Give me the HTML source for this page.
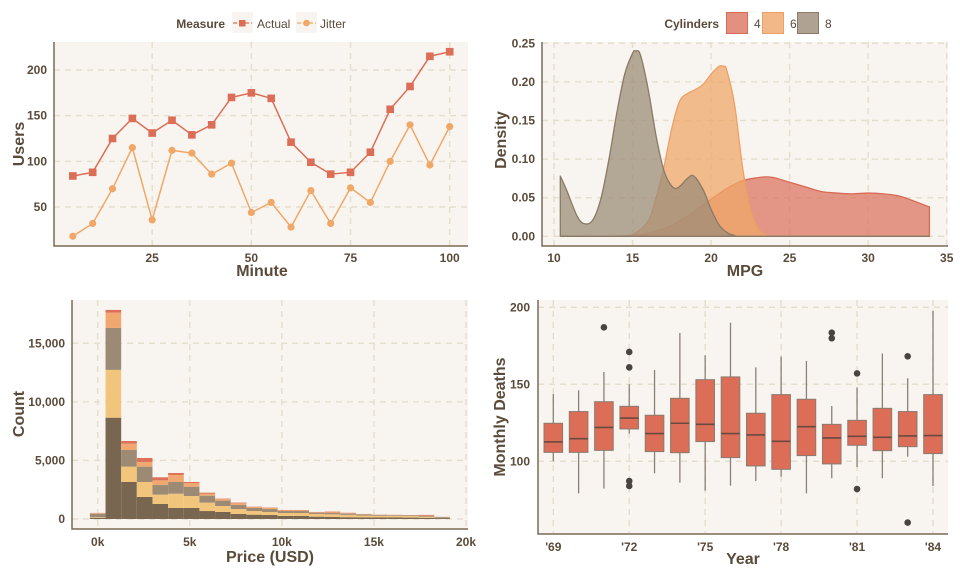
<!DOCTYPE html>
<html><head><meta charset="utf-8">
<style>
html,body{margin:0;padding:0;background:#fff;}
svg{display:block;font-family:"Liberation Sans",sans-serif;}
.tick{font-size:12px;font-weight:bold;fill:#5a4a3a;}
.atitle{font-size:16px;font-weight:bold;fill:#5a4a3a;}
.leg{font-size:12px;fill:#5a4a3a;}
.legb{font-size:12px;font-weight:bold;fill:#5a4a3a;}
</style></head>
<body>
<svg id="chart" width="960" height="576" viewBox="0 0 960 576" xmlns="http://www.w3.org/2000/svg"></svg>
<script>
// ---------- Panel 1: line chart ----------
const minutes = [5,10,15,20,25,30,35,40,45,50,55,60,65,70,75,80,85,90,95,100];
const actualUsers = [84,88,125,147,131,145,129,140,170,175,169,121,99,86,88,110,157,182,215,220];
const jitterUsers = [18,32,70,115,36,112,109,86,98,44,55,28,68,32,71,55,100,140,96,138];
const minuteTicks = [25,50,75,100];
const userTicks = [50,100,150,200];

// ---------- Panel 2: density ----------
const mpgTicks = [10,15,20,25,30,35];
const densityTicks = [0,0.05,0.10,0.15,0.20,0.25];
const densityTickLabels = ["0.00","0.05","0.10","0.15","0.20","0.25"];
const cyl4X = [10.4,15,17,18,19,20,21,22,23,23.5,24,25,26,27,28,29,30,31,32,33,33.9];
const cyl4Y = [0,0.001,0.01,0.02,0.033,0.048,0.062,0.072,0.076,0.077,0.076,0.07,0.064,0.058,0.056,0.055,0.056,0.055,0.052,0.045,0.038];
const cyl6X = [10.4,14,15,16,16.5,17,17.5,18,18.5,19,19.5,20,20.5,20.8,21,21.5,22,22.5,23,23.5,24,33.9];
const cyl6Y = [0,0,0.002,0.02,0.05,0.09,0.14,0.175,0.185,0.19,0.197,0.21,0.22,0.22,0.215,0.17,0.09,0.035,0.01,0.002,0,0];
const cyl8X = [10.4,10.8,11.5,12,12.5,13,13.5,14,14.5,15,15.2,15.5,16,16.5,17,17.5,17.9,18.5,18.9,19.5,20,20.5,21,21.5,22,33.9];
const cyl8Y = [0.078,0.06,0.025,0.016,0.022,0.05,0.10,0.16,0.21,0.237,0.24,0.235,0.19,0.13,0.085,0.065,0.063,0.075,0.078,0.06,0.035,0.015,0.005,0.001,0,0];

// ---------- Panel 3: stacked histogram (counts per cut, bottom to top) ----------
const priceBinLeft = [-0.425,0.425,1.275,2.125,2.975,3.825,4.675,5.525,6.375,7.225,8.075,8.925,9.775,10.625,11.475,12.325,13.175,14.025,14.875,15.725,16.575,17.425,18.275];
const priceBinWidth = 0.85;
const cutA = [100,8650,3160,1880,1280,940,940,680,600,430,370,340,260,260,200,170,150,140,130,130,120,100,80];
const cutB = [50,4080,1310,1280,800,1220,1020,720,510,420,310,260,250,250,230,230,200,160,150,140,130,100,30];
const cutC = [300,3580,1420,1310,820,1000,800,590,460,350,260,250,170,170,110,110,110,90,70,60,60,70,70];
const cutD = [50,1310,540,400,400,600,310,170,140,140,80,90,60,60,30,60,40,30,20,20,20,20,10];
const cutE = [20,230,230,340,260,170,90,90,30,60,30,30,30,30,30,60,30,10,10,10,10,60,0];
const priceTicks = [0,5,10,15,20];
const priceTickLabels = ["0k","5k","10k","15k","20k"];
const countTicks = [0,5000,10000,15000];
const countTickLabels = ["0","5,000","10,000","15,000"];

// ---------- Panel 4: boxplots ----------
const years = [69,70,71,72,73,74,75,76,77,78,79,80,81,82,83,84];
const whiskerHigh = [143.7,146.1,158,150,159.3,183.3,168.8,190,161,168,165.2,135.9,148,170,153.9,197.8];
const q3 = [124.7,132.3,138.7,135.7,129.9,140.9,153,154.8,131.2,143.3,140.3,124,126.6,134.4,132.3,143.3];
const medians = [112.6,114.7,122,128.1,118,124.7,124,118,117.1,113,122.5,115.2,116.2,115.6,116.5,116.7];
const q1 = [105.8,105.8,107.1,121,106.3,105.6,112.8,102.4,97,94.8,103.7,98.3,110.4,106.9,109.5,105];
const whiskerLow = [100,79.2,82.3,118,92.2,86.1,81,84.2,87.2,90,79.2,89,96.3,89,103,84];
const outlierYears = [71,72,72,72,72,80,80,81,81,83,83];
const outlierValues = [187,171,161,87.2,84,183.5,179.9,157.1,82,168.2,60.2];
const yearTicks = [69,72,75,78,81,84];
const deathTicks = [100,150,200];

const NS = "http://www.w3.org/2000/svg";
const svg = document.getElementById("chart");
function mk(tag, attrs, parent, text){
  const e = document.createElementNS(NS, tag);
  for (const k in attrs) e.setAttribute(k, attrs[k]);
  if (text !== undefined) e.textContent = text;
  (parent || svg).appendChild(e);
  return e;
}
function scale(d0,d1,r0,r1){ return v => r0 + (v-d0)/(d1-d0)*(r1-r0); }
const GRID = "#e6dfcf", AXIS = "#7a6a55";

function panel(name, x0, y0, x1, y1){
  const g = mk("g", {});
  
  
  const bg = mk("rect", {x:x0, y:y0, width:x1-x0, height:y1-y0, fill:"#f8f5f0"}, g);
  
  
  return g;
}
function vgrid(g, x, y0, y1){ const l = mk("line",{x1:x,x2:x,y1:y0,y2:y1,stroke:GRID,"stroke-width":1.5,"stroke-dasharray":"6,5"},g);   }
function hgrid(g, y, x0, x1){ const l = mk("line",{x1:x0,x2:x1,y1:y,y2:y,stroke:GRID,"stroke-width":1.5,"stroke-dasharray":"6,5"},g);   }
function axes(g, x0, y0, x1, y1){
  const a = mk("path",{d:`M${x0},${y0} L${x0},${y1} L${x1},${y1}`,fill:"none",stroke:AXIS,"stroke-width":1.5},g);
   
}
function txt(g, x, y, s, cls, anchor, name, rot){
  const t = mk("text",{x:x,y:y,class:cls,"text-anchor":anchor||"middle"},g,s);
  if (rot) t.setAttribute("transform",`rotate(-90 ${x} ${y})`);
  
  
  return t;
}

// ===== Panel 1 =====
(function(){
  const L=54,T=42,R=468,B=246;
  const g = panel("line-chart-panel",L,T,R,B);
  const X = scale(0,100,53,449.7), Y = scale(0,200,252.7,70);
  minuteTicks.forEach(v=>{ vgrid(g,X(v),T,B); txt(g,X(v),262,String(v),"tick","middle","x-tick-label"); });
  userTicks.forEach(v=>{ hgrid(g,Y(v),L,R); txt(g,47,Y(v)+4,String(v),"tick","end","y-tick-label"); });
  axes(g,L,T,R,B);
  txt(g,262,276,"Minute","atitle","middle","x-axis-title");
  txt(g,24,144,"Users","atitle","middle","y-axis-title",true);
  function series(vals,color,marker,name){
    const sg = mk("g",{},g);
    
    
    const p = mk("polyline",{points:minutes.map((m,i)=>X(m)+","+Y(vals[i])).join(" "),fill:"none",stroke:color,"stroke-width":1.5},sg);
    
    
    minutes.forEach((m,i)=>{
      let e;
      if(marker==="sq") e = mk("rect",{x:X(m)-3.8,y:Y(vals[i])-3.8,width:7.6,height:7.6,fill:color},sg);
      else e = mk("circle",{cx:X(m),cy:Y(vals[i]),r:3.6,fill:color},sg);
      
      
    });
  }
  series(jitterUsers,"#f0a868","ci","jitter-series");
  series(actualUsers,"#dc6e57","sq","actual-series");
  const lg = mk("g",{},svg);
  
  
  txt(lg,225,28,"Measure","legb","end","legend-title");
  const e1 = mk("g",{},lg);  
  mk("rect",{x:232,y:12,width:21,height:21,fill:"#f8f5f0"},e1);
  mk("line",{x1:233,x2:252,y1:23,y2:23,stroke:"#dc6e57","stroke-width":1.3,"stroke-dasharray":"4,2"},e1);
  mk("rect",{x:239,y:20,width:6.5,height:6.5,fill:"#dc6e57"},e1);
  txt(e1,257,28,"Actual","leg","start","legend-label");
  const e2 = mk("g",{},lg);  
  mk("rect",{x:296,y:12,width:21,height:21,fill:"#f8f5f0"},e2);
  mk("line",{x1:297,x2:316,y1:23,y2:23,stroke:"#f0a868","stroke-width":1.3,"stroke-dasharray":"4,2"},e2);
  mk("circle",{cx:306.5,cy:23,r:3.3,fill:"#f0a868"},e2);
  txt(e2,320,28,"Jitter","leg","start","legend-label");
})();

// smooth path through points (Catmull-Rom)
function smoothPath(pts){
  let d = "";
  for (let i=0;i<pts.length-1;i++){
    const p0 = pts[Math.max(0,i-1)], p1 = pts[i], p2 = pts[i+1], p3 = pts[Math.min(pts.length-1,i+2)];
    const c1x = p1[0]+(p2[0]-p0[0])/6, c1y = p1[1]+(p2[1]-p0[1])/6;
    const c2x = p2[0]-(p3[0]-p1[0])/6, c2y = p2[1]-(p3[1]-p1[1])/6;
    d += ` C${c1x},${c1y} ${c2x},${c2y} ${p2[0]},${p2[1]}`;
  }
  return d;
}

// ===== Panel 2 =====
(function(){
  const L=542,T=42,R=948,B=246;
  const g = panel("density-panel",L,T,R,B);
  const X = scale(10,35,554,946.7), Y = scale(0,0.25,236.3,43.3);
  mpgTicks.forEach(v=>{ vgrid(g,X(v),T,B); txt(g,X(v),262,String(v),"tick","middle","x-tick-label"); });
  densityTicks.forEach((v,i)=>{ hgrid(g,Y(v),L,R); txt(g,535,Y(v)+4,densityTickLabels[i],"tick","end","y-tick-label"); });
  axes(g,L,T,R,B);
  txt(g,745,276,"MPG","atitle","middle","x-axis-title");
  txt(g,506,140,"Density","atitle","middle","y-axis-title",true);
  function area(xs,ys,fill,stroke,name){
    const pts = xs.map((x,i)=>[X(x),Y(ys[i])]);
    let d = `M${X(xs[0])},${Y(0)} L${pts[0][0]},${pts[0][1]}` + smoothPath(pts) + ` L${X(xs[xs.length-1])},${Y(0)} Z`;
    const p = mk("path",{d:d,fill:fill,"fill-opacity":0.75,stroke:stroke,"stroke-width":1.3,"stroke-linejoin":"round"},g);
    
    
  }
  area(cyl4X,cyl4Y,"#dc7562","#d86a55","density-4-cyl");
  area(cyl6X,cyl6Y,"#f0a76a","#eda066","density-6-cyl");
  area(cyl8X,cyl8Y,"#9c8c78","#8a7a66","density-8-cyl");
  const lg = mk("g",{},svg);
  
  
  txt(lg,719,28,"Cylinders","legb","end","legend-title");
  [["4",726,"#e2907f","#d86a55"],["6",762,"#f2b887","#eda066"],["8",797,"#afa292","#8a7a66"]].forEach(c=>{
    const e = mk("g",{},lg);
    
    
    mk("rect",{x:c[1]+0.5,y:12.5,width:21,height:21,fill:c[2],stroke:c[3],"stroke-width":1},e);
    txt(e,c[1]+28,28,c[0],"leg","start","legend-label");
  });
})();

// ===== Panel 3 =====
(function(){
  const L=72,T=300,R=468,B=529;
  const g = panel("histogram-panel",L,T,R,B);
  const X = scale(0,20,97.7,466), Y = scale(0,15000,519,343.3);
  priceTicks.forEach((v,i)=>{ vgrid(g,X(v),T,B); txt(g,X(v),546,priceTickLabels[i],"tick","middle","x-tick-label"); });
  countTicks.forEach((v,i)=>{ hgrid(g,Y(v),L,R); txt(g,65,Y(v)+4,countTickLabels[i],"tick","end","y-tick-label"); });
  axes(g,L,T,R,B);
  txt(g,270,562,"Price (USD)","atitle","middle","x-axis-title");
  txt(g,24,414,"Count","atitle","middle","y-axis-title",true);
  const layers = [[cutA,"#786650","cut-fair"],[cutB,"#f2c57c","cut-good"],[cutC,"#9c8a74","cut-very-good"],[cutD,"#f0a870","cut-premium"],[cutE,"#dc7058","cut-ideal"]];
  priceBinLeft.forEach((b,i)=>{
    let acc = 0;
    layers.forEach(l=>{
      const v = l[0][i];
      if (v<=0) return;
      const r = mk("rect",{x:X(b),y:Y(acc+v),width:X(b+priceBinWidth)-X(b),height:Y(acc)-Y(acc+v),fill:l[1]},g);
      
      
      acc += v;
    });
  });
})();

// ===== Panel 4 =====
(function(){
  const L=538,T=300,R=948,B=534;
  const g = panel("boxplot-panel",L,T,R,B);
  const X = scale(69,84,553.3,933), Y = scale(100,200,461.3,307.3);
  yearTicks.forEach(v=>{ vgrid(g,X(v),T,B); txt(g,X(v),551,"'"+v,"tick","middle","x-tick-label"); });
  deathTicks.forEach(v=>{ hgrid(g,Y(v),L,R); txt(g,530,Y(v)+4,String(v),"tick","end","y-tick-label"); });
  axes(g,L,T,R,B);
  txt(g,743,564,"Year","atitle","middle","x-axis-title");
  txt(g,505,417,"Monthly Deaths","atitle","middle","y-axis-title",true);
  const hw = 9.3;
  years.forEach((yr,i)=>{
    const bg = mk("g",{},g);
    
    
    const cx = X(yr);
    mk("line",{x1:cx,x2:cx,y1:Y(whiskerHigh[i]),y2:Y(q3[i]),stroke:"#8a8078","stroke-width":1.3},bg);
    mk("line",{x1:cx,x2:cx,y1:Y(q1[i]),y2:Y(whiskerLow[i]),stroke:"#8a8078","stroke-width":1.3},bg);
    mk("rect",{x:cx-hw,y:Y(q3[i]),width:hw*2,height:Y(q1[i])-Y(q3[i]),fill:"#dc6e57",stroke:"#8a7a70","stroke-width":1},bg);
    mk("line",{x1:cx-hw,x2:cx+hw,y1:Y(medians[i]),y2:Y(medians[i]),stroke:"#6a4a40","stroke-width":1.6},bg);
  });
  outlierYears.forEach((yr,i)=>{
    const c = mk("circle",{cx:X(yr),cy:Y(outlierValues[i]),r:3.3,fill:"#4a4440"},g);
    
    
  });
})();
</script>
</body></html>
